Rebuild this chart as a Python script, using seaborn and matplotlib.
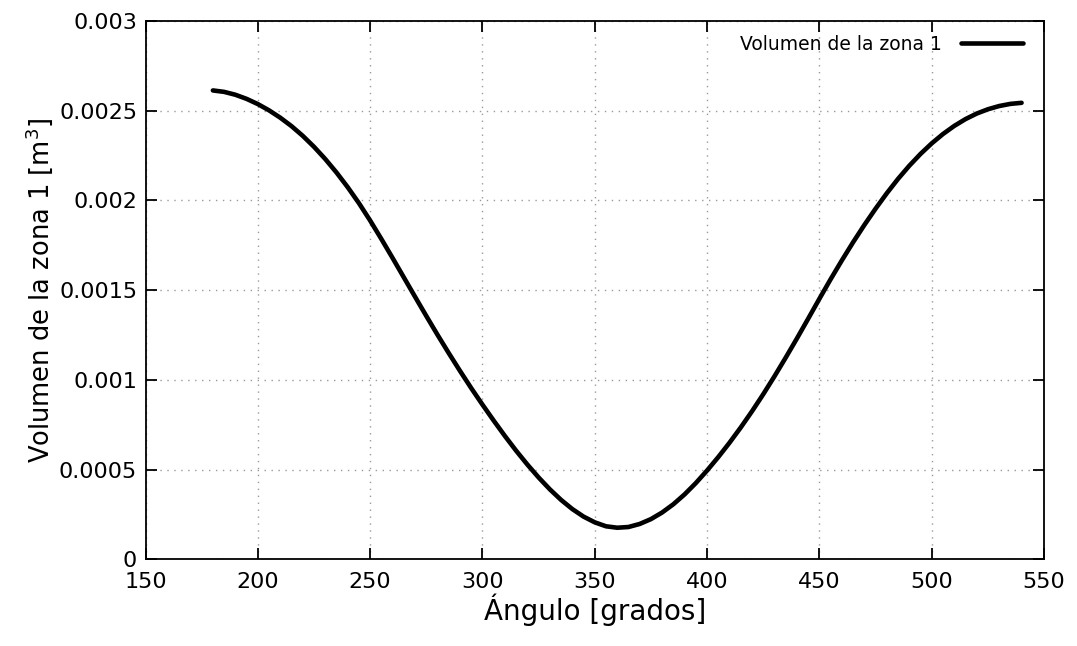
import matplotlib
matplotlib.use("Agg")
import matplotlib.pyplot as plt
import seaborn as sns
import pandas as pd

angulo = [180, 185, 190, 195, 200, 205, 210, 215, 220, 225, 230, 235, 240, 245, 250, 255,
          260, 265, 270, 275, 280, 285, 290, 295, 300, 305, 310, 315, 320, 325, 330, 335,
          340, 345, 350, 355, 360, 365, 370, 375, 380, 385, 390, 395, 400, 405, 410, 415,
          420, 425, 430, 435, 440, 445, 450, 455, 460, 465, 470, 475, 480, 485, 490, 495,
          500, 505, 510, 515, 520, 525, 530, 535, 540]
volumen = [0.002613, 0.002605, 0.002589, 0.002566, 0.002537, 0.002502, 0.002461, 0.002414,
           0.002360, 0.002299, 0.002231, 0.002156, 0.002074, 0.001985, 0.001888, 0.001785,
           0.001679, 0.001571, 0.001463, 0.001356, 0.001251, 0.001149, 0.001050, 0.000954,
           0.000862, 0.000773, 0.000687, 0.000605, 0.000528, 0.000456, 0.000390, 0.000331,
           0.000280, 0.000238, 0.000206, 0.000184, 0.000176, 0.000180, 0.000197, 0.000224,
           0.000261, 0.000307, 0.000362, 0.000425, 0.000495, 0.000570, 0.000650, 0.000735,
           0.000825, 0.000920, 0.001020, 0.001124, 0.001231, 0.001341, 0.001452, 0.001561,
           0.001666, 0.001767, 0.001863, 0.001954, 0.002040, 0.002120, 0.002193, 0.002259,
           0.002318, 0.002370, 0.002415, 0.002453, 0.002484, 0.002508, 0.002526, 0.002538,
           0.002544]
xticks = [150, 200, 250, 300, 350, 400, 450, 500, 550]
yticks = [0, 0.0005, 0.001, 0.0015, 0.002, 0.0025, 0.003]
yticklabels = ["0", "0.0005", "0.001", "0.0015", "0.002", "0.0025", "0.003"]

sns.set_theme(style="white")
plt.rcParams['font.family'] = ['DejaVu Sans']
plt.rcParams['text.color'] = 'black'
plt.rcParams['axes.labelcolor'] = 'black'

df = pd.DataFrame({"Ángulo": angulo, "Volumen": volumen})

fig = plt.figure(figsize=(10.77, 6.46), dpi=100)
ax = fig.add_axes([0.1351, 0.1342, 0.8343, 0.8333])

sns.lineplot(data=df, x="Ángulo", y="Volumen", ax=ax, color="black", linewidth=3.3,
             label="Volumen de la zona 1")

ax.set_xlim(150, 550)
ax.set_ylim(0, 0.003)
ax.set_xticks(xticks)
ax.set_xticklabels([str(t) for t in xticks], fontsize=16)
ax.set_yticks(yticks)
ax.set_yticklabels(yticklabels, fontsize=16)
ax.tick_params(direction="in", length=8, width=1.3, top=True, right=True,
               bottom=True, left=True, colors="black")
ax.tick_params(axis="x", pad=9)
ax.tick_params(axis="y", pad=6)
ax.grid(True, linestyle=(0, (1, 4)), color="#9a9a9a", linewidth=1)
for s in ax.spines.values():
    s.set_color("black")
    s.set_linewidth(1.3)

ax.set_xlabel("Ángulo [grados]", fontsize=20, labelpad=1)
ax.set_ylabel("Volumen de la zona 1 [m$^3$]", fontsize=18.5, labelpad=3)

leg = ax.legend(loc="upper right", frameon=False, markerfirst=False, fontsize=13.5,
                handlelength=3.3, handletextpad=1.0, borderpad=0, borderaxespad=0,
                bbox_to_anchor=(1022.7 / 1077, 1 - 35 / 646),
                bbox_transform=fig.transFigure)

fig.savefig("out.png", dpi=100)
